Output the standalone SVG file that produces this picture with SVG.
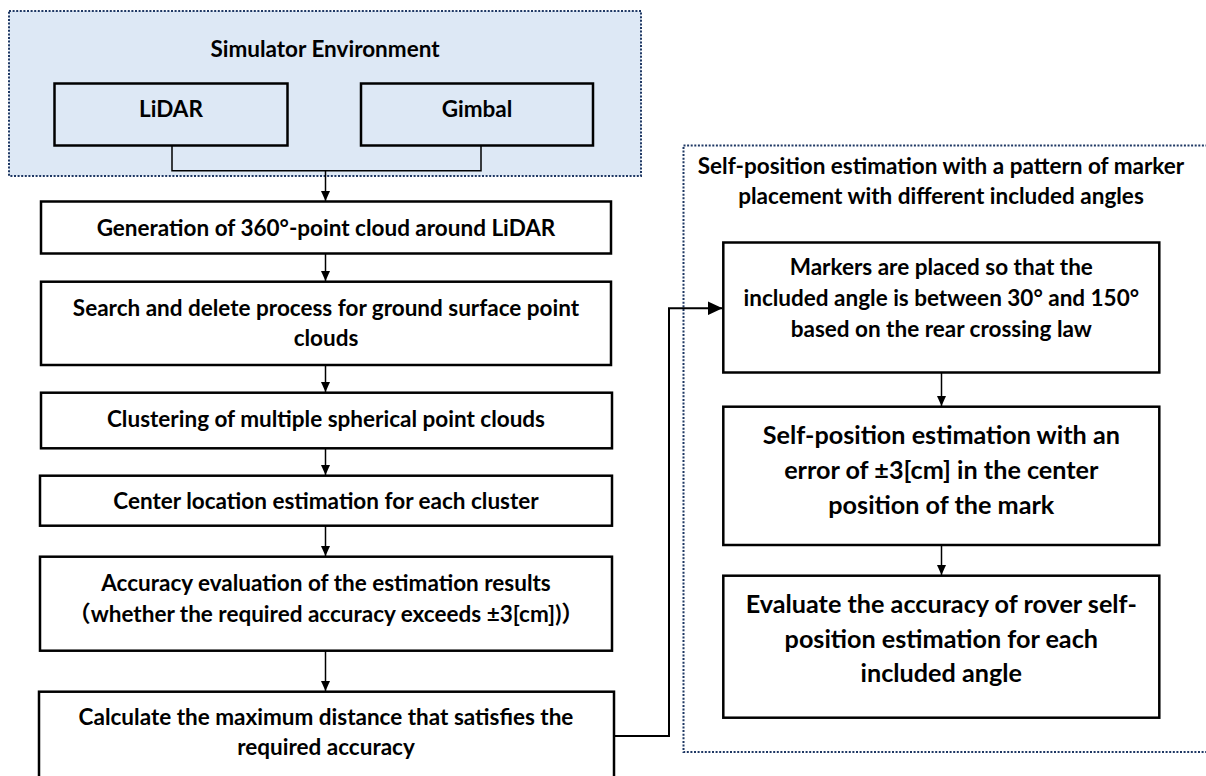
<svg xmlns="http://www.w3.org/2000/svg" width="1206" height="776" viewBox="0 0 1206 776">
<defs>
<style>
.box{fill:#ffffff;stroke:#000000;stroke-width:2.5}
.sub{fill:#dde8f5;stroke:#000000;stroke-width:2.5}
.grp{stroke:#1f3864;stroke-width:2;stroke-dasharray:2 1.6}
text{font-family:Lato,'Noto Sans CJK JP',sans-serif;font-weight:700;font-size:22.5px;text-anchor:middle;fill:#000000}
.big{font-size:25.2px}
.conn{fill:none;stroke:#000000;stroke-width:1.5}
.link{fill:none;stroke:#000000;stroke-width:2}
</style>
<marker id="ah" markerUnits="userSpaceOnUse" markerWidth="10" markerHeight="9" refX="10" refY="4.5" orient="auto">
<path d="M0,0 L10,4.5 L0,9 z" fill="#000000"/>
</marker>
<marker id="ahb" markerUnits="userSpaceOnUse" markerWidth="15" markerHeight="14" refX="15" refY="7" orient="auto">
<path d="M0,0 L15,7 L0,14 z" fill="#000000"/>
</marker>
</defs>
<rect width="1206" height="776" fill="#ffffff"/>

<g id="simulator-environment">
<rect class="grp" x="9" y="11" width="632" height="165" fill="#dde8f5"/>
<text x="325" y="57">Simulator Environment</text>
</g>
<g id="lidar">
<rect class="sub" x="54.5" y="83.5" width="233" height="62"/>
<text x="171" y="117">LiDAR</text>
</g>
<g id="gimbal">
<rect class="sub" x="361" y="83.5" width="232" height="62"/>
<text x="477" y="117">Gimbal</text>
</g>

<g id="self-position-group">
<rect class="grp" x="683.5" y="145.5" width="540" height="606.5" fill="none"/>
<text x="941" y="173.5">Self-position estimation with a pattern of marker</text>
<text x="941" y="203.5">placement with different included angles</text>
</g>

<g id="generation">
<rect class="box" x="41" y="201.5" width="570" height="52"/>
<text x="326" y="236">Generation of 360°-point cloud around LiDAR</text>
</g>
<g id="search-delete">
<rect class="box" x="41" y="281.7" width="570" height="83.3"/>
<text x="326" y="315.5">Search and delete process for ground surface point</text>
<text x="326" y="346">clouds</text>
</g>
<g id="clustering">
<rect class="box" x="41" y="392.7" width="571" height="55.6"/>
<text x="326" y="427">Clustering of multiple spherical point clouds</text>
</g>
<g id="center-location">
<rect class="box" x="40" y="475.7" width="572" height="50"/>
<text x="326" y="508.5">Center location estimation for each cluster</text>
</g>
<g id="accuracy-evaluation">
<rect class="box" x="40" y="556.7" width="572" height="94"/>
<text x="326" y="590.5">Accuracy evaluation of the estimation results</text>
<text x="326" y="622">（whether the required accuracy exceeds ±3[cm])）</text>
</g>
<g id="calculate-distance">
<rect class="box" x="39" y="691.7" width="575" height="100"/>
<text x="326" y="725">Calculate the maximum distance that satisfies the</text>
<text x="326" y="755">required accuracy</text>
</g>

<g id="markers-placed">
<rect class="box" x="723.3" y="242.5" width="436" height="130"/>
<text x="941.3" y="275">Markers are placed so that the</text>
<text x="941.3" y="306">included angle is between 30° and 150°</text>
<text x="941.3" y="337">based on the rear crossing law</text>
</g>
<g id="self-position-error">
<rect class="box" x="723.3" y="406.7" width="436" height="138.3"/>
<text class="big" x="941.3" y="443.5">Self-position estimation with an</text>
<text class="big" x="941.3" y="479">error of ±3[cm] in the center</text>
<text class="big" x="941.3" y="513.5">position of the mark</text>
</g>
<g id="evaluate-accuracy">
<rect class="box" x="723.3" y="575.7" width="436" height="142"/>
<text class="big" x="941.3" y="612.7">Evaluate the accuracy of rover self-</text>
<text class="big" x="941.3" y="647.7">position estimation for each</text>
<text class="big" x="941.3" y="681.7">included angle</text>
</g>

<g id="connectors">
<path class="conn" d="M172,145.7 V170.7 H481 V145.7"/>
<path class="conn" d="M325.5,170.7 V201" marker-end="url(#ah)"/>
<path class="conn" d="M325.5,253.5 V281" marker-end="url(#ah)"/>
<path class="conn" d="M325.5,365 V392" marker-end="url(#ah)"/>
<path class="conn" d="M325.5,448.3 V475" marker-end="url(#ah)"/>
<path class="conn" d="M325.5,525.7 V556" marker-end="url(#ah)"/>
<path class="conn" d="M325.5,650.7 V691" marker-end="url(#ah)"/>
<path class="link" d="M614,736 H669 V308.3 H722.5" marker-end="url(#ahb)"/>
<path class="conn" d="M941.5,372.5 V406" marker-end="url(#ah)"/>
<path class="conn" d="M941.5,545 V575" marker-end="url(#ah)"/>
</g>
</svg>
